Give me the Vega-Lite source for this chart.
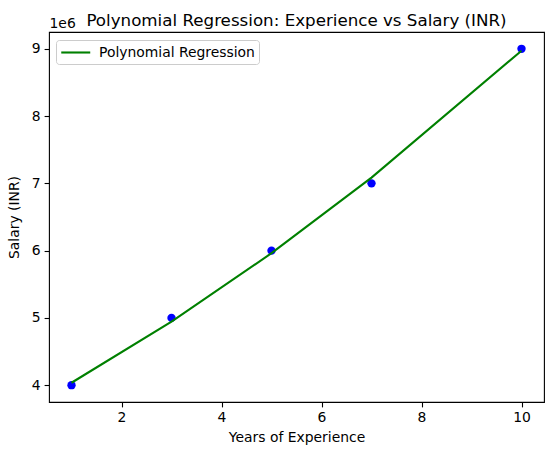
{
  "$schema": "https://vega.github.io/schema/vega-lite/v6.json",
  "width": 495,
  "height": 370,
  "autosize": "none",
  "padding": {"left": 49, "top": 32, "right": 10, "bottom": 53},
  "background": "white",
  "title": {
    "text": "Polynomial Regression: Experience vs Salary (INR)",
    "font": "DejaVu Sans",
    "fontSize": 16.7,
    "fontWeight": "normal",
    "color": "black",
    "anchor": "middle",
    "baseline": "alphabetic",
    "offset": 7,
    "dy": 34
  },
  "config": {
    "view": {"stroke": "black", "strokeWidth": 1.1},
    "axis": {
      "domain": false,
      "grid": false,
      "tickColor": "black",
      "tickSize": 4.9,
      "tickWidth": 1.1,
      "labelFont": "DejaVu Sans",
      "labelFontSize": 13.9,
      "labelColor": "black",
      "labelPadding": 4,
      "titleFont": "DejaVu Sans",
      "titleFontSize": 13.9,
      "titleFontWeight": "normal",
      "titleColor": "black"
    },
    "legend": {
      "labelFont": "DejaVu Sans",
      "labelFontSize": 13.9,
      "labelColor": "black"
    }
  },
  "datasets": {
    "actual": [
      {"experience": 1, "salary": 4000000},
      {"experience": 3, "salary": 5000000},
      {"experience": 5, "salary": 6000000},
      {"experience": 7, "salary": 7000000},
      {"experience": 10, "salary": 9000000}
    ],
    "fitted": [
      {"experience": 1, "salary": 4036000, "series": "Polynomial Regression"},
      {"experience": 3, "salary": 4945000, "series": "Polynomial Regression"},
      {"experience": 5, "salary": 5962000, "series": "Polynomial Regression"},
      {"experience": 7, "salary": 7086000, "series": "Polynomial Regression"},
      {"experience": 10, "salary": 8972000, "series": "Polynomial Regression"}
    ]
  },
  "layer": [
    {
      "data": {"name": "actual"},
      "mark": {"type": "circle", "color": "#0000ff", "opacity": 1, "size": 70},
      "encoding": {
        "x": {
          "field": "experience",
          "type": "quantitative",
          "scale": {"domain": [0.55, 10.45], "nice": false, "zero": false},
          "axis": {"values": [2, 4, 6, 8, 10], "title": "Years of Experience", "titlePadding": 6}
        },
        "y": {
          "field": "salary",
          "type": "quantitative",
          "scale": {"domain": [3750000, 9250000], "nice": false, "zero": false},
          "axis": {
            "values": [4000000, 5000000, 6000000, 7000000, 8000000, 9000000],
            "labelExpr": "datum.value / 1000000",
            "title": "Salary (INR)",
            "titlePadding": 10
          }
        }
      }
    },
    {
      "data": {"name": "fitted"},
      "mark": {"type": "line", "strokeWidth": 2.1},
      "encoding": {
        "x": {
          "field": "experience",
          "type": "quantitative",
          "axis": {
            "orient": "top",
            "labels": false,
            "ticks": false,
            "domain": false,
            "title": "1e6",
            "titleX": 0,
            "titleY": -5,
            "titleAlign": "left",
            "titleAnchor": "start",
            "titleBaseline": "alphabetic",
            "titlePadding": 0
          }
        },
        "y": {"field": "salary", "type": "quantitative"},
        "color": {
          "field": "series",
          "type": "nominal",
          "scale": {"range": ["#008000"]},
          "legend": {
            "title": null,
            "orient": "none",
            "legendX": 7,
            "legendY": 8,
            "symbolType": "M-1,0H3",
            "symbolSize": 210,
            "symbolStrokeWidth": 2.1,
            "labelOffset": 22,
            "padding": 4,
            "strokeColor": "#cccccc",
            "fillColor": "white",
            "cornerRadius": 3
          }
        }
      }
    }
  ],
  "resolve": {"axis": {"x": "independent"}}
}
